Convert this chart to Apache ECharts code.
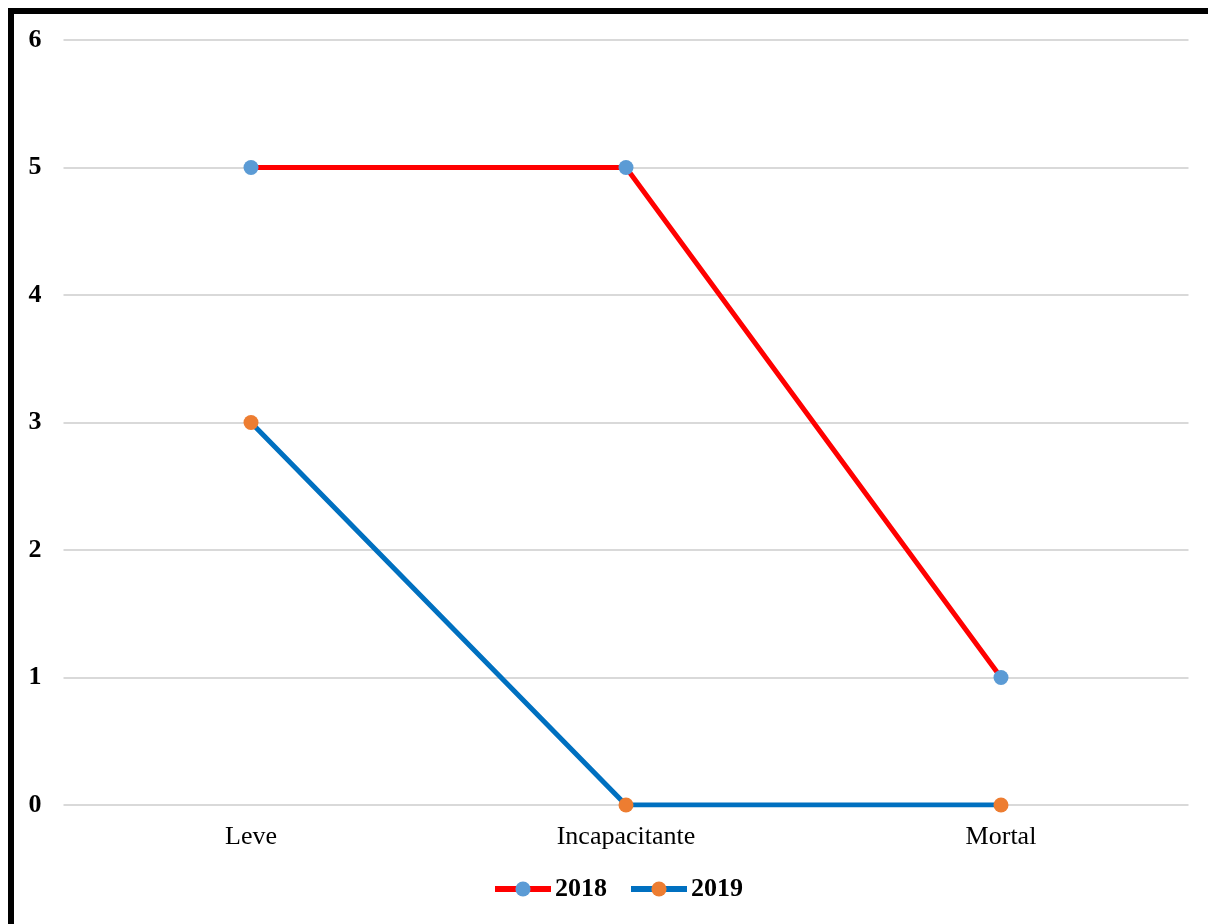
<!DOCTYPE html>
<html>
<head>
<meta charset="utf-8">
<script src="https://cdn.jsdelivr.net/npm/echarts@6/dist/echarts.min.js"></script>
<style>
  html, body { margin: 0; padding: 0; background: #fff; }
  #chart { width: 1208px; height: 924px; }
</style>
</head>
<body>
<div id="chart"></div>
<script>
// Injury severity categories and counts per year
const categories = ['Leve', 'Incapacitante', 'Mortal'];
const values2018 = [5, 5, 1];
const values2019 = [3, 0, 0];
const yTicks = { min: 0, max: 6, interval: 1 };

const serif = '"Liberation Serif", "Times New Roman", serif';

const chart = echarts.init(document.getElementById('chart'), null, { renderer: 'canvas' });

chart.setOption({
  backgroundColor: '#ffffff',
  animation: false,
  graphic: [{
    type: 'rect',
    shape: { x: 11, y: 11, width: 1400, height: 1200 },
    style: { fill: 'none', stroke: '#000', lineWidth: 6 },
    silent: true,
    z: 100
  }],
  grid: { left: 63.5, right: 19.5, top: 40, bottom: 119 },
  legend: {
    top: 871,
    left: 487,
    itemWidth: 56,
    itemHeight: 19,
    itemGap: 21,
    lineStyle: { width: 6 },
    textStyle: { fontFamily: serif, fontSize: 26, fontWeight: 'bold', color: '#000', padding: [0, 0, 0, -1] },
    data: ['2018', '2019']
  },
  xAxis: {
    type: 'category',
    data: categories,
    boundaryGap: true,
    axisLine: { show: false },
    axisTick: { show: false },
    axisLabel: { margin: 19, fontFamily: serif, fontSize: 26, color: '#000' }
  },
  yAxis: {
    type: 'value',
    min: yTicks.min,
    max: yTicks.max,
    interval: yTicks.interval,
    axisLine: { show: false },
    axisTick: { show: false },
    splitLine: { lineStyle: { color: '#d9d9d9', width: 2 } },
    axisLabel: { margin: 22, fontFamily: serif, fontSize: 26, fontWeight: 'bold', color: '#000' }
  },
  series: [
    {
      name: '2018',
      type: 'line',
      data: values2018,
      symbol: 'circle',
      symbolSize: 15,
      lineStyle: { color: '#ff0000', width: 5 },
      itemStyle: { color: '#5b9bd5' }
    },
    {
      name: '2019',
      type: 'line',
      data: values2019,
      symbol: 'circle',
      symbolSize: 15,
      lineStyle: { color: '#0070c0', width: 5 },
      itemStyle: { color: '#ed7d31' }
    }
  ]
});
</script>
</body>
</html>
